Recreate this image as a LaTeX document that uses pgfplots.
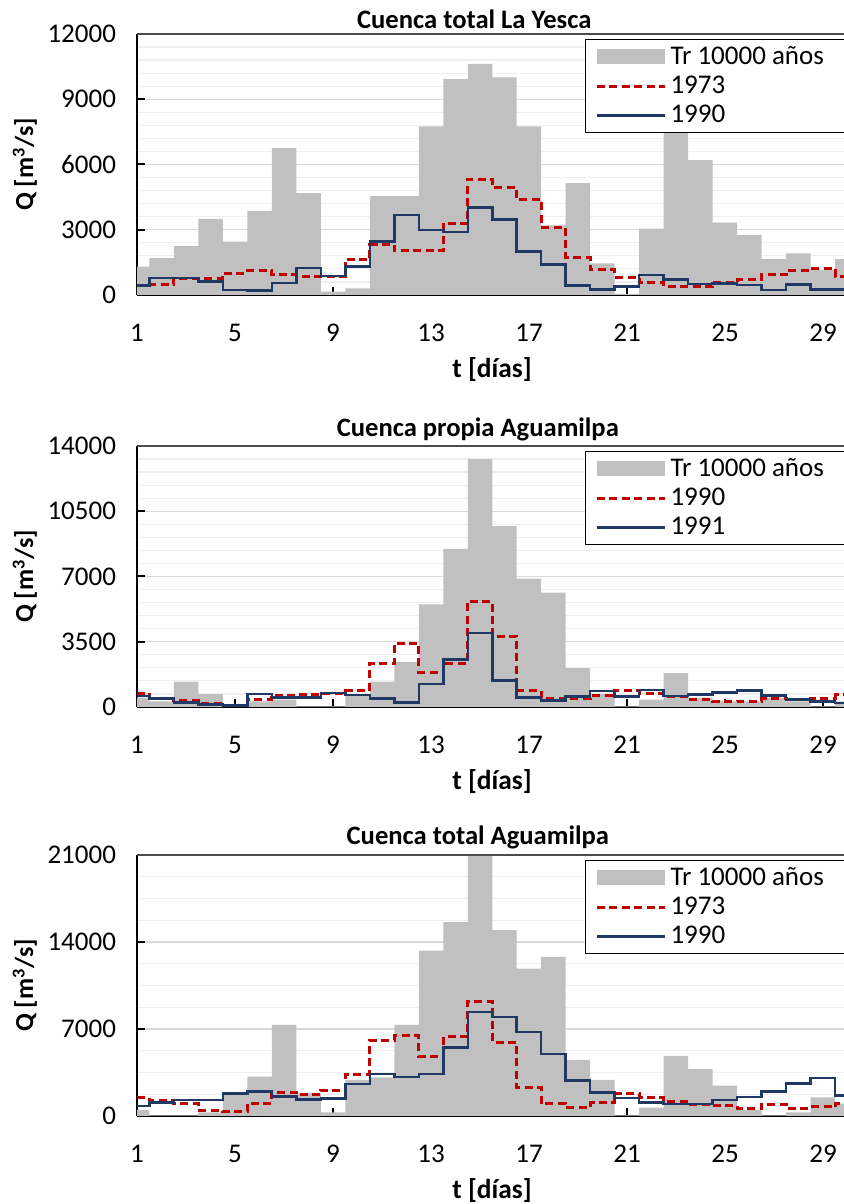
\documentclass[border=0pt]{standalone}
\usepackage{fontspec}
\setmainfont{Carlito}
\usepackage{pgfplots}
\pgfplotsset{compat=1.18}
\usepackage{pgfplotstable}

\definecolor{barfill}{HTML}{C0C0C0}
\definecolor{redline}{HTML}{C00000}
\definecolor{blueline}{HTML}{203864}
\definecolor{majgrid}{HTML}{D9D9D9}
\definecolor{mingrid}{HTML}{EFEFEF}

% Daily discharges: Tr 10000 design hydrograph and two historical floods
\pgfplotstableread{
day tr    a    b
1   1300  430  430
2   1700  490  770
3   2250  770  770
4   3500  770  610
5   2450  1000 230
6   3870  1120 200
7   6750  920  540
8   4680  840  1230
9   150   840  880
10  300   1640 1300
11  4550  2300 2460
12  4550  2030 3680
13  7750  2030 2990
14  9930  3300 2900
15  10620 5330 4020
16  10000 4940 3480
17  7750  4380 2000
18  3200  3120 1410
19  5140  1740 430
20  1450  1150 260
21  50    810  380
22  3050  580  920
23  7750  380  720
24  6200  380  510
25  3330  570  530
26  2760  690  460
27  1650  920  230
28  1910  1120 490
29  1150  1200 260
30  1650  840  260
}\yesca

\pgfplotstableread{
day tr    a    b
1   500   740  600
2   300   450  450
3   1360  340  250
4   690   180  125
5   80    60   90
6   300   410  710
7   400   630  500
8   30    690  500
9   30    750  740
10  600   870  650
11  1360  2350 450
12  2400  3420 250
13  5500  1860 1230
14  8480  2350 2550
15  13300 5680 3980
16  9700  3800 1430
17  6880  860  500
18  6130  470  340
19  2090  430  570
20  700   600  850
21  30    890  560
22  400   730  920
23  1820  560  590
24  500   410  680
25  300   290  790
26  300   320  890
27  500   430  610
28  300   420  400
29  30    440  290
30  300   680  220
}\propia

\pgfplotstableread{
day tr    a    b
1   500   1500 810
2   50    1240 1090
3   50    970  1280
4   300   430  1280
5   1880  350  1830
6   3170  1020 1960
7   7340  1900 1560
8   1830  1700 1345
9   300   2070 1400
10  2900  3370 2560
11  3100  6080 3360
12  7340  6460 3150
13  13300 4790 3360
14  15600 6400 5500
15  20900 9230 8370
16  14950 5950 7960
17  11860 2310 6750
18  12800 970  5000
19  4520  670  2840
20  2900  1050 1910
21  50    1830 1430
22  680   1490 1100
23  4840  1130 955
24  3770  915  980
25  2450  810  1290
26  500   580  1510
27  50    955  1990
28  300   620  2600
29  1500  730  3070
30  1000  1020 1630
}\aguamilpa

\tikzset{
  red line/.style={redline, line width=1.5pt, dash pattern=on 4pt off 2.2pt},
  blue line/.style={blueline, line width=1.25pt},
}

\pgfplotsset{
  layers/hydro/.define layer set={axis background,axis grid,pre main,main,axis ticks,axis lines,axis tick labels,axis descriptions,axis foreground}{},
  hydro/.style={
    set layers=hydro,
    scale only axis, width=355pt, height=130.5pt,
    anchor=south west,
    xmin=1, xmax=29.98, ymin=0,
    axis lines*=left,
    axis line style={black, line width=1pt},
    tick align=inside,
    major tick length=4pt,
    minor tick length=0pt,
    tick style={black, line width=1pt},
    xtick={1,5,...,29},
    scaled y ticks=false,
    ymajorgrids, yminorgrids,
    major grid style={majgrid, line width=0.6pt},
    minor grid style={mingrid, line width=0.6pt},
    tick label style={font=\fontsize{13.5}{16}\selectfont},
    /pgf/number format/assume math mode=true,
    /pgf/number format/1000 sep={},
    yticklabel style={xshift=-7pt},
    xticklabel style={yshift=-11pt},
    xlabel={\textbf{t [días]}},
    ylabel={\textbf{Q [m\textsuperscript{3}/s]}},
    xlabel style={font=\fontsize{13.7}{16}\selectfont, at={(axis description cs:0.5,-0.287)}, anchor=center},
    ylabel style={font=\fontsize{13}{15}\selectfont, at={(axis description cs:-0.158,0.5)}, anchor=center},
    title style={font=\bfseries\fontsize{13.3}{15}\selectfont, anchor=center, yshift=-5.5pt},
    legend style={at={(rel axis cs:0.631,0.981)}, anchor=north west,
      draw=black, line width=0.5pt, fill=white,
      font=\fontsize{13.5}{16}\selectfont,
      inner xsep=5pt, inner ysep=1.5pt, row sep=0.3pt},
    legend cell align=left,
    after end axis/.code={\draw[black!70, line width=0.6pt] (rel axis cs:0,1) -- (rel axis cs:1,1);},
  },
  tr bars/.style={ybar, bar width=1, bar shift=0pt, draw=none, fill=barfill,
    legend image code/.code={\fill[barfill] (0pt,-3.75pt) rectangle (34pt,3.75pt);}},
  % each daily value holds from day-0.5 to day+0.5
  step/.style={const plot mark left, no marks},
  step end/.style={const plot mark right, no marks, forget plot,
    restrict x to domain=29.2:31},
  red step/.style={step, red line,
    legend image code/.code={\draw[red line] (0pt,0pt) -- (34pt,0pt);}},
  blue step/.style={step, blue line,
    legend image code/.code={\draw[blue line] (0pt,0pt) -- (34pt,0pt);}},
}

\newcommand{\entry}[1]{\makebox[90pt][l]{#1}}

\begin{document}
\begin{tikzpicture}

% Cuenca total La Yesca
\begin{axis}[hydro, at={(68.5pt,454.5pt)},
  ymax=12000, ytick={0,3000,...,12000}, minor y tick num=4,
  title={Cuenca total La Yesca},
  title style={at={(axis description cs:0.475,1.054)}}]
\addplot[tr bars] table[x=day, y=tr] {\yesca};
\addlegendentry{\entry{Tr 10000 años}}
\addplot[red step] table[x expr=\thisrow{day}-0.5, y=a] {\yesca};
\addlegendentry{\entry{1973}}
\addplot[blue step] table[x expr=\thisrow{day}-0.5, y=b] {\yesca};
\addlegendentry{\entry{1990}}
\addplot[step end, red line] table[x expr=\thisrow{day}+0.5, y=a] {\yesca};
\addplot[step end, blue line] table[x expr=\thisrow{day}+0.5, y=b] {\yesca};
\end{axis}

% Cuenca propia Aguamilpa
\begin{axis}[hydro, at={(68.5pt,248.5pt)},
  ymax=14000, ytick={0,3500,...,14000}, minor y tick num=4,
  title={Cuenca propia Aguamilpa},
  title style={at={(axis description cs:0.48,1.061)}}]
\addplot[tr bars] table[x=day, y=tr] {\propia};
\addlegendentry{\entry{Tr 10000 años}}
\addplot[red step] table[x expr=\thisrow{day}-0.5, y=a] {\propia};
\addlegendentry{\entry{1990}}
\addplot[blue step] table[x expr=\thisrow{day}-0.5, y=b] {\propia};
\addlegendentry{\entry{1991}}
\addplot[step end, red line] table[x expr=\thisrow{day}+0.5, y=a] {\propia};
\addplot[step end, blue line] table[x expr=\thisrow{day}+0.5, y=b] {\propia};
\end{axis}

% Cuenca total Aguamilpa
\begin{axis}[hydro, at={(68.5pt,44pt)},
  ymax=21000, ytick={0,7000,...,21000}, minor y tick num=3,
  title={Cuenca total Aguamilpa},
  title style={at={(axis description cs:0.48,1.065)}}]
\addplot[tr bars] table[x=day, y=tr] {\aguamilpa};
\addlegendentry{\entry{Tr 10000 años}}
\addplot[red step] table[x expr=\thisrow{day}-0.5, y=a] {\aguamilpa};
\addlegendentry{\entry{1973}}
\addplot[blue step] table[x expr=\thisrow{day}-0.5, y=b] {\aguamilpa};
\addlegendentry{\entry{1990}}
\addplot[step end, red line] table[x expr=\thisrow{day}+0.5, y=a] {\aguamilpa};
\addplot[step end, blue line] table[x expr=\thisrow{day}+0.5, y=b] {\aguamilpa};
\end{axis}

% page frame
\pgfresetboundingbox
\path (0pt,0pt) rectangle (422pt,602pt);
\end{tikzpicture}
\end{document}
